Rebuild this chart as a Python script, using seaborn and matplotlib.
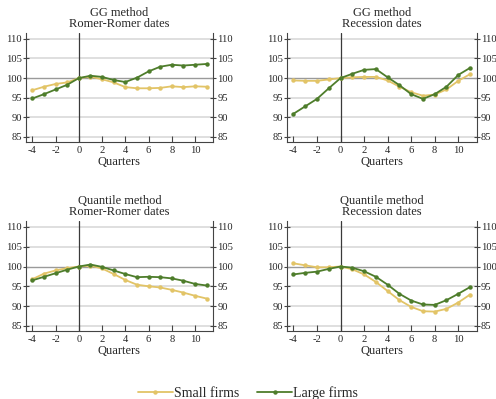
import numpy as np
import pandas as pd
import matplotlib
matplotlib.use("Agg")
import matplotlib.pyplot as plt
from matplotlib.lines import Line2D
import seaborn as sns

quarters = list(range(-4, 12))

# GG method, Romer-Romer dates
gg_rr_small = [96.9, 97.8, 98.5, 98.9, 100.0, 100.35, 99.7, 98.9, 97.7, 97.4, 97.4, 97.5, 97.9, 97.7, 97.9, 97.8]
gg_rr_large = [94.8, 95.9, 97.1, 98.3, 100.0, 100.6, 100.3, 99.5, 99.0, 100.1, 101.7, 102.9, 103.4, 103.2, 103.4, 103.6]

# GG method, recession dates
gg_rec_small = [99.4, 99.3, 99.3, 99.65, 100.0, 100.2, 100.3, 100.3, 99.4, 97.8, 96.4, 95.5, 95.8, 97.1, 99.3, 101.0]
gg_rec_large = [90.9, 92.8, 94.7, 97.4, 100.0, 101.1, 102.1, 102.3, 100.2, 98.2, 95.9, 94.7, 95.9, 97.8, 100.8, 102.6]

# Quantile method, Romer-Romer dates
q_rr_small = [96.8, 98.2, 99.0, 99.6, 100.0, 100.2, 99.5, 98.1, 96.6, 95.4, 95.0, 94.7, 94.1, 93.4, 92.6, 91.9]
q_rr_large = [96.5, 97.4, 98.3, 99.2, 100.0, 100.5, 99.9, 99.0, 98.1, 97.3, 97.4, 97.3, 97.0, 96.4, 95.6, 95.2]

# Quantile method, recession dates
q_rec_small = [100.8, 100.3, 99.8, 99.8, 100.0, 99.3, 98.0, 96.1, 93.8, 91.5, 89.8, 88.7, 88.6, 89.3, 90.9, 92.9]
q_rec_large = [98.0, 98.4, 98.7, 99.4, 100.0, 99.7, 98.8, 97.4, 95.4, 93.1, 91.4, 90.4, 90.3, 91.5, 93.1, 94.8]

panel_titles = [
    "GG method\nRomer-Romer dates",
    "GG method\nRecession dates",
    "Quantile method\nRomer-Romer dates",
    "Quantile method\nRecession dates",
]
series_names = ["Small firms", "Large firms"]
y_ticks = [85, 90, 95, 100, 105, 110]
x_ticks = [-4, -2, 0, 2, 4, 6, 8, 10]

panels = [
    (gg_rr_small, gg_rr_large),
    (gg_rec_small, gg_rec_large),
    (q_rr_small, q_rr_large),
    (q_rec_small, q_rec_large),
]

sns.set_theme(style="white")
plt.rcParams["font.family"] = ["Liberation Serif", "DejaVu Serif"]

small_color = "#e2c467"
large_color = "#4e7d2b"
palette = {"Small firms": small_color, "Large firms": large_color}

fig = plt.figure(figsize=(4.96, 3.99), dpi=100)
W, H = 496, 399
boxes = [
    (26, 213, 33, 142),
    (287, 476.5, 33, 142),
    (26, 213, 221, 331),
    (287, 476.5, 221, 331),
]

for (small, large), title, (l, r, t, b) in zip(panels, panel_titles, boxes):
    ax = fig.add_axes([l / W, 1 - b / H, (r - l) / W, (b - t) / H])
    df = pd.DataFrame({
        "Quarter": quarters * 2,
        "Value": list(small) + list(large),
        "Group": [series_names[0]] * len(quarters) + [series_names[1]] * len(quarters),
    })
    for yv in [85, 90, 95, 105, 110]:
        ax.axhline(yv, color="#dcdcdc", lw=1.3, zorder=0)
    ax.axhline(100, color="#9a9a9a", lw=1.0, zorder=1)
    ax.axvline(0, color="#3a3a3a", lw=0.9, zorder=1)
    sns.lineplot(data=df, x="Quarter", y="Value", hue="Group", palette=palette,
                 marker="o", markersize=3.2, markeredgewidth=0, linewidth=1.3,
                 legend=False, ax=ax, zorder=3)
    ax.set_xlim(-4.55, 11.55)
    ax.set_ylim(83.7, 111.5)
    ax.set_xticks(x_ticks)
    ax.set_xticklabels([str(v) for v in x_ticks])
    ax.set_yticks(y_ticks)
    ax.set_yticklabels([str(v) for v in y_ticks])
    ax.tick_params(axis="y", which="both", left=True, right=True, labelleft=True,
                   labelright=True, direction="inout", length=5, width=0.8,
                   color="#444444", labelsize=7.6, pad=0.5)
    ax.tick_params(axis="x", bottom=True, direction="in", length=4, width=0.8,
                   color="#444444", labelsize=7.6, pad=3)
    ax.spines["top"].set_visible(False)
    for s in ["left", "right", "bottom"]:
        ax.spines[s].set_color("#444444")
        ax.spines[s].set_linewidth(0.8)
    ax.set_xlabel("Quarters", fontsize=9, labelpad=0.5)
    ax.set_ylabel("")
    ax.set_title(title, fontsize=9, linespacing=0.95, pad=4)
    ax.grid(False)

handles = [
    Line2D([], [], color=small_color, lw=1.3, marker="o", markersize=3.2, markeredgewidth=0),
    Line2D([], [], color=large_color, lw=1.3, marker="o", markersize=3.2, markeredgewidth=0),
]
fig.legend(handles, series_names, loc="center", bbox_to_anchor=(0.5, 1 - 393 / H),
           ncol=2, frameon=False, fontsize=10, handlelength=2.5, handletextpad=0.1,
           columnspacing=1.3)

fig.savefig("out.png", dpi=100)
